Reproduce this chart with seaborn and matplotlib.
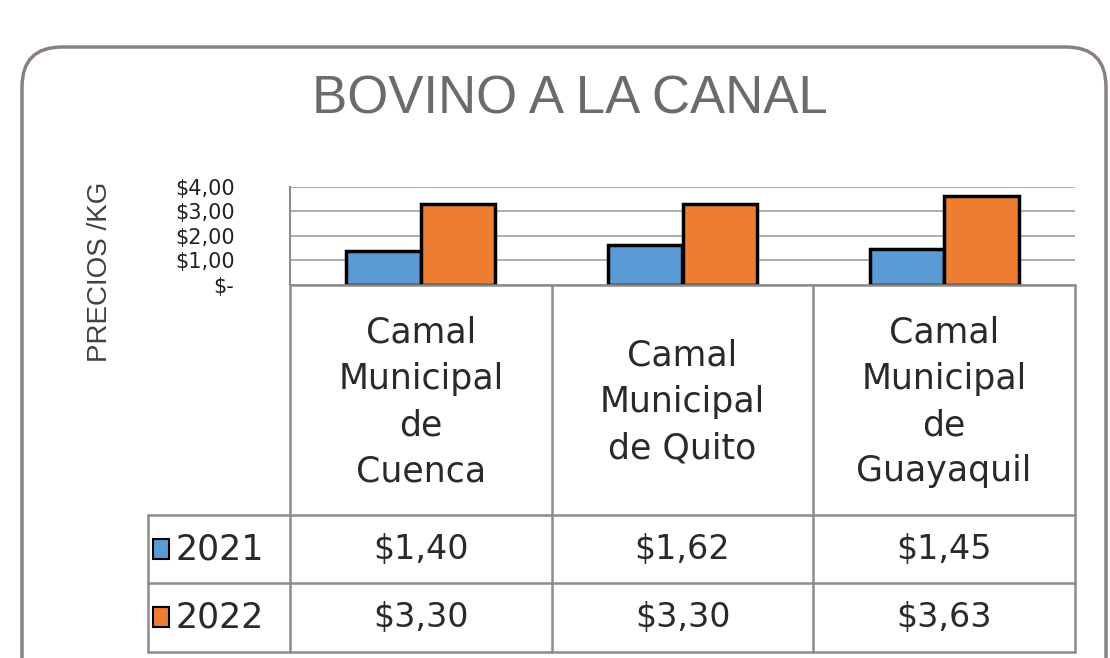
import numpy as np
import pandas as pd
import seaborn as sns
import matplotlib.pyplot as plt
import matplotlib.transforms as mtransforms
from matplotlib.patches import FancyBboxPatch, Rectangle
from matplotlib.lines import Line2D

# data
categories = ["Camal\nMunicipal\nde\nCuenca", "Camal\nMunicipal\nde Quito", "Camal\nMunicipal\nde\nGuayaquil"]
years = ["2021", "2022"]
prices_2021 = [1.40, 1.62, 1.45]
prices_2022 = [3.30, 3.30, 3.63]
yticks = [0, 1, 2, 3, 4]
ytick_labels = ["$-", "$1,00", "$2,00", "$3,00", "$4,00"]
colors = ["#5b9bd5", "#ed7d31"]

data = pd.DataFrame({
    "cat": categories * 2,
    "year": [years[0]] * 3 + [years[1]] * 3,
    "price": prices_2021 + prices_2022,
})

sns.set_style("white")
plt.rcParams['font.family'] = ['DejaVu Sans']
narrow = ['Liberation Sans Narrow', 'Liberation Sans', 'DejaVu Sans']

fig = plt.figure(figsize=(11.1, 6.58), dpi=100)
W, H = 1110, 658
ax = fig.add_axes([290 / W, 1 - 285 / H, 785 / W, 98 / H])

sns.barplot(data=data, x="cat", y="price", hue="year", palette=colors, saturation=1,
            width=0.57, edgecolor="black", linewidth=2.5, ax=ax, legend=False)
ax.set_xlim(-0.5, 2.5)
ax.set_ylim(0, 4)
ax.set_yticks(yticks)
ax.set_yticklabels(ytick_labels, fontsize=15, color="#222222")
ax.tick_params(axis='y', length=0, pad=40)
ax.set_xticks([])
ax.set_xlabel("")
ax.set_ylabel("")
ax.grid(axis='y', color="#a0a0a0", linewidth=1.2)
ax.set_axisbelow(True)
for s in ["top", "right", "bottom"]:
    ax.spines[s].set_visible(False)
ax.spines["left"].set_color("#8c8c8c")
ax.spines["left"].set_linewidth(1.5)

# outer rounded frame (pixel coords)
frame = FancyBboxPatch((22, -40), 1084, H - 47 + 40,
                       boxstyle="round,pad=0,rounding_size=40",
                       transform=mtransforms.IdentityTransform(),
                       facecolor="none", edgecolor="#8a817c", linewidth=2.5)
fig.patches.append(frame)

# title and y label
fig.text(570 / W, 1 - 100 / H, "BOVINO A LA CANAL", ha="center", va="center",
         fontsize=38, color="#6b6b6b", family=narrow)
fig.text(100 / W, 1 - 272 / H, "PRECIOS /KG", ha="center", va="center",
         rotation=90, fontsize=20, color="#404040", family=narrow)

# data table under the plot
tr = mtransforms.blended_transform_factory(ax.transData, fig.transFigure)
line_kw = dict(color="#8c8c8c", linewidth=1.8)
fy = lambda py: 1 - py / H
fx = lambda px: px / W

for xb in [-0.5, 0.5, 1.5, 2.5]:
    fig.add_artist(Line2D([xb, xb], [fy(285), fy(652)], transform=tr, **line_kw))
fig.add_artist(Line2D([-0.5, 2.5], [fy(285), fy(285)], transform=tr, **line_kw))
for yb in [515, 583, 652]:
    fig.add_artist(Line2D([fx(148), fx(1075)], [fy(yb), fy(yb)], **line_kw))
fig.add_artist(Line2D([fx(148), fx(148)], [fy(515), fy(652)], **line_kw))

for i, c in enumerate(categories):
    fig.text(i, fy(402), c, transform=tr, ha="center", va="center",
             fontsize=25, linespacing=1.45, color="#2a2a2a")

rows = [(years[0], prices_2021, colors[0], 549), (years[1], prices_2022, colors[1], 617)]
for yr, vals, col, py in rows:
    fig.add_artist(Rectangle((fx(153), fy(py + 10)), 16 / W, 20 / H, facecolor=col,
                             edgecolor="black", linewidth=1.5, transform=fig.transFigure))
    fig.text(fx(176), fy(py), yr, ha="left", va="center", fontsize=25, color="#2a2a2a")
    for i, v in enumerate(vals):
        lbl = "$" + f"{v:.2f}".replace(".", ",")
        fig.text(i, fy(py), lbl, transform=tr, ha="center", va="center",
                 fontsize=24, color="#2a2a2a")

fig.savefig("out.png", dpi=100, facecolor="white")
